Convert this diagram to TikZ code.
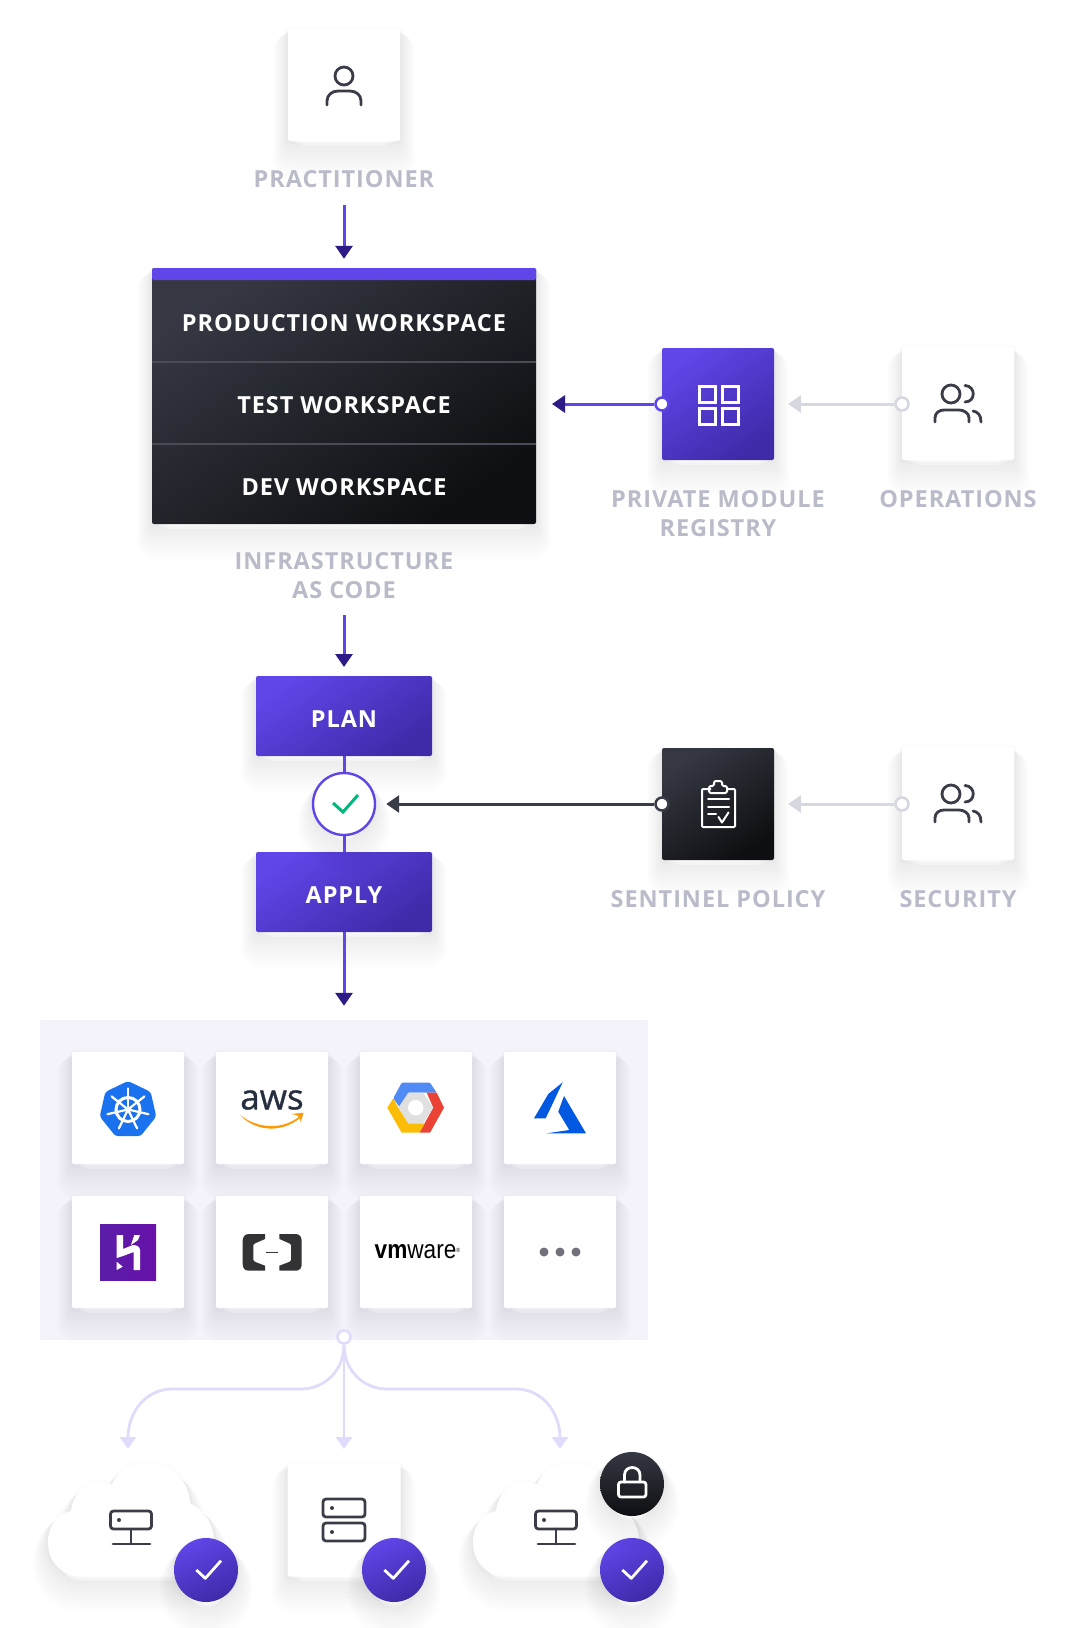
\documentclass[tikz,border=0pt]{standalone}
\usepackage{fontspec}
\setmainfont{Open Sans}[LetterSpace=4]
\newfontfamily\logofont{Open Sans}[FakeBold=0.9]
\newfontfamily\vmfont{Liberation Sans}
\usetikzlibrary{positioning}
\usetikzlibrary{arrows.meta}
\usetikzlibrary{calc}
\usetikzlibrary{shapes.geometric}

\definecolor{violet1}{HTML}{6045E8}
\definecolor{violet2}{HTML}{3F2AA8}
\definecolor{indigotip}{HTML}{2E1B85}
\definecolor{dark1}{HTML}{353842}
\definecolor{dark2}{HTML}{0E0F12}
\definecolor{iconink}{HTML}{3A3C47}
\definecolor{labelgrey}{HTML}{B9BBC9}
\definecolor{greyline}{HTML}{D6D8E0}
\definecolor{lilac}{HTML}{DFDBFB}
\definecolor{panelbg}{HTML}{F4F3FC}
\definecolor{checkgreen}{HTML}{00B87C}

\tikzset{
	blobstep/.style={preaction={draw=black,opacity=0.0085,line width=#1*1pt,line join=round,transform canvas={yshift=-0.68*#1*1pt}}},
	halostep/.style={preaction={draw=black,opacity=0.005,line width=#1*1pt,line join=round}},
	softshadow/.style={blobstep=30,blobstep=27,blobstep=24,blobstep=21,blobstep=18,blobstep=15,blobstep=12,blobstep=9,blobstep=6,blobstep=3,halostep=8,halostep=5,halostep=2},
	card/.style={rectangle,fill=white,rounded corners=2pt,minimum size=112pt,inner sep=0pt,outer sep=0pt,softshadow},
	violetbox/.style={rectangle,top color=violet1,bottom color=violet2,shading angle=35,rounded corners=2pt,inner sep=0pt,outer sep=0pt,softshadow},
	darkbox/.style={rectangle,top color=dark1,bottom color=dark2,shading angle=35,rounded corners=2pt,inner sep=0pt,outer sep=0pt,softshadow},
	stepbox/.style={violetbox,minimum width=176pt,minimum height=80pt,text=white,text height=23pt,text depth=0pt,font=\bfseries\fontsize{23.5}{29}\selectfont},
	wsrow/.style={inner sep=0pt,text=white,font=\bfseries\fontsize{23.5}{29}\selectfont},
	lbl/.style={inner sep=0pt,align=center,text=labelgrey,font=\bfseries\fontsize{23.5}{29}\selectfont},
	port/.style={circle,fill=white,draw=#1,line width=2.5pt,minimum size=13pt,inner sep=0pt},
	badge/.style={circle,top color=violet1,bottom color=violet2,shading angle=25,minimum size=64pt,inner sep=0pt,softshadow},
	flow/.style={draw=violet1,line width=3pt,-{Triangle[width=17pt,length=13pt,color=indigotip]}},
	flowdark/.style={draw=iconink,line width=3pt,-{Triangle[width=17pt,length=13pt,color=iconink]}},
	flowgrey/.style={draw=greyline,line width=3pt,-{Triangle[width=17pt,length=13pt,color=greyline]}},
	branch/.style={draw=lilac,line width=2.8pt,-{Triangle[width=16pt,length=12pt,color=lilac]}},
	iconline/.style={draw=iconink,line width=2.8pt,line cap=round,line join=round},
	whiteline/.style={draw=white,line width=2.8pt,line cap=round,line join=round},
	cloudpic/.pic={
		\path[fill=white,softshadow] (-48,56) .. controls (-70,56) and (-83,42) .. (-83,22)
			.. controls (-83,6) and (-74,-6) .. (-60,-9)
			.. controls (-58,-26) and (-46,-38) .. (-31,-38)
			.. controls (-27,-38) and (-23,-37) .. (-19,-36)
			.. controls (-13,-50) and (-1,-57) .. (16,-57)
			.. controls (40,-57) and (58,-40) .. (59,-17)
			.. controls (73,-10) and (83,4) .. (83,22)
			.. controls (83,42) and (68,56) .. (43,56) -- cycle;
		% server on its stand
		\draw[iconline,rounded corners=3pt] (-20.5,-9) rectangle (20.5,9);
		\fill[iconink] (-12,0) circle (2pt);
		\draw[iconline] (0,9) -- (0,24);
		\draw[iconline] (-18,24) -- (19,24);
	},
	peoplepic/.pic={
		\draw[iconline] (-7,-10) circle (9);
		\draw[iconline] (7,-18.5) .. controls (18,-18) and (18,-2) .. (7,-2);
		\draw[iconline] (-23,18) -- (-23,14) .. controls (-23,9) and (-19,6) .. (-14,6) -- (1,6) .. controls (6,6) and (11,9) .. (11,14) -- (11,18);
		\draw[iconline] (15,7) .. controls (20,8) and (23,11) .. (23,18);
	},
}

\begin{document}
\begin{tikzpicture}[x=1pt,y=-1pt]
	\useasboundingbox (0,0) rectangle (1068,1628);

	% practitioner at the top
	\node[card] (practcard) at (344,85) {};
	\draw[iconline] (344,76) circle (9);
	\draw[iconline] (327,105) -- (327,101) .. controls (327,95) and (332,91) .. (338,91) -- (350,91) .. controls (356,91) and (361,95) .. (361,101) -- (361,105);
	\node[lbl] (practlbl) at (344,179) {PRACTITIONER};

	% the three workspaces
	\node[darkbox,minimum width=384pt,minimum height=256pt] (wsbox) at (344,396) {};
	\node[rectangle,fill=violet1,rounded corners=1.5pt,minimum width=384pt,minimum height=12pt,inner sep=0pt] (wsbar) at (344,274) {};
	\node[wsrow] (wsprod) at (344,323) {PRODUCTION WORKSPACE};
	\node[wsrow] (wstest) at (344,405) {TEST WORKSPACE};
	\node[wsrow] (wsdev) at (344,487) {DEV WORKSPACE};
	\draw[white!10!dark1,line width=1.5pt] (wsbox.west |- 0,362) -- (wsbox.east |- 0,362);
	\draw[white!10!dark1,line width=1.5pt] (wsbox.west |- 0,444) -- (wsbox.east |- 0,444);
	\node[lbl] (wslbl) at (344,575.5) {INFRASTRUCTURE\\AS CODE};

	% registry and operations
	\node[violetbox,minimum size=112pt] (regbox) at (718,404) {};
	\foreach \x in {699,722}
		\foreach \y in {386,408}
			\draw[whiteline,line width=3pt,line cap=butt,line join=miter] (\x,\y) rectangle +(16,16);
	\node[lbl] (reglbl) at (718,513.5) {PRIVATE MODULE\\REGISTRY};
	\node[card] (opscard) at (958,404) {};
	\pic at (958,404) {peoplepic};
	\node[lbl] (opslbl) at (958,499) {OPERATIONS};

	% plan, check, apply
	\node[stepbox] (plan) at (344,716) {PLAN};
	\node[stepbox] (apply) at (344,892) {APPLY};
	\node[circle,fill=white,draw=violet1,line width=2.4pt,minimum size=62pt,inner sep=0pt,softshadow] (check) at (344,804) {};
	\draw[draw=checkgreen,line width=3pt] (333,803) -- (343,812) -- (358,795);

	% policy and security
	\node[darkbox,minimum size=112pt] (polbox) at (718,804) {};
	\draw[whiteline,line width=2pt,line cap=butt,rounded corners=1pt] (711,789) -- (702,789) -- (702,827) -- (735,827) -- (735,789) -- (726,789);
	\draw[whiteline,line width=2pt,rounded corners=1.5pt] (709,793) -- (709,786) -- (714,786) -- (714,781) -- (722,781) -- (722,786) -- (727,786) -- (727,793) -- cycle;
	\draw[whiteline,line width=2pt] (708,799) -- (729,799);
	\draw[whiteline,line width=2pt] (708,807) -- (729,807);
	\draw[whiteline,line width=2pt] (708,814) -- (716,814);
	\draw[whiteline,line width=2pt] (718.5,817) -- (722,822.5) -- (728.5,812.5);
	\node[lbl] (pollbl) at (718,899) {SENTINEL POLICY};
	\node[card] (seccard) at (958,804) {};
	\pic at (958,804) {peoplepic};
	\node[lbl] (seclbl) at (958,899) {SECURITY};

	% providers
	\node[rectangle,fill=panelbg,minimum width=608pt,minimum height=320pt,inner sep=0pt] (panel) at (344,1180) {};
	\foreach \name/\x in {kube/128,aws/272,gcp/416,azure/560}
		\node[card] (\name card) at (\x,1108) {};
	\foreach \name/\x in {heroku/128,alicloud/272,vmware/416,more/560}
		\node[card] (\name card) at (\x,1252) {};

	% kubernetes
	\definecolor{kubeblue}{HTML}{1B72EE}
	\node[regular polygon,regular polygon sides=7,minimum size=58pt,inner sep=0pt,fill=kubeblue,rounded corners=3pt] (kube) at (128,1110) {};
	\draw[white,line width=3pt] (128,1109.5) circle (12);
	\fill[white] (128,1109.5) circle (3);
	\foreach \a in {0,...,6} {
		\draw[white,line width=2.2pt,line cap=round] (128,1109.5) -- ++({-90+\a*360/7}:21);
	}

	% aws
	\definecolor{awsink}{HTML}{252F3E}
	\definecolor{awsorange}{HTML}{FF9900}
	\node[inner sep=0pt,text=awsink,font=\logofont\fontsize{35}{35}\selectfont] (awstext) at (272,1100) {aws};
	\path[fill=awsorange] (240,1115) .. controls (258,1129) and (282,1130) .. (299.5,1116.5) -- (300,1118) .. controls (282,1133) and (256,1132) .. (240,1115) -- cycle;
	\path[fill=awsorange] (291,1114) -- (303.5,1112.7) -- (300.5,1123) .. controls (301,1118) and (300,1115) .. (291,1114) -- cycle;

	% gcp
	\path[fill={rgb,255:red,79;green,138;blue,245},rounded corners=1pt] (401.7,1082.7) -- (430,1082.7) -- (436.7,1092.7) -- (408.3,1092.7) -- (400,1107.7) -- (393.3,1098.3) -- cycle;
	\path[fill={rgb,255:red,234;green,67;blue,53}] (426.7,1092.7) -- (436.7,1092.7) -- (444,1107.7) -- (430,1132.7) -- (419.3,1132.7) -- (433.3,1107.7) -- cycle;
	\path[fill={rgb,255:red,251;green,188;blue,5}] (393.3,1098.3) -- (398.3,1107.7) -- (408.3,1123.3) -- (425,1123.3) -- (419.3,1132.7) -- (401.7,1132.7) -- (387.3,1107.7) -- cycle;
	\path[fill=black!12] (398.3,1107.7) -- (408.3,1092.7) -- (423,1092.7) -- (433.3,1107.7) -- (423,1123.3) -- (408.3,1123.3) -- cycle;
	\fill[white] (415.7,1107.7) circle (7.7);

	% azure
	\definecolor{azureblue}{HTML}{0059E0}
	\path[fill=azureblue] (562.7,1082.3) -- (548.3,1094) -- (534,1118.3) -- (545.7,1118.3) -- cycle;
	\path[fill=azureblue] (564,1096) -- (558.3,1111.7) -- (569.3,1130) -- (546.7,1133.3) -- (586,1133.3) -- cycle;

	% heroku
	\definecolor{heroku1}{HTML}{5A1EA8}
	\definecolor{heroku2}{HTML}{6710A8}
	\node[rectangle,left color=heroku1,right color=heroku2,minimum size=56pt,inner sep=0pt] (heroku) at (128,1252) {};
	\path[fill=white] (116.7,1235) -- (123,1235) -- (123,1249) -- (133,1245) .. controls (137,1245) and (140,1247) .. (140,1250) -- (140,1270) -- (133.7,1270) -- (133.7,1252) -- (123,1256) -- (116.7,1258) -- cycle;
	\path[fill=white] (134.3,1235) -- (140,1235) -- (138,1240) -- (131,1245) -- cycle;
	\path[fill=white] (116.7,1261.7) -- (122.7,1266.7) -- (116.7,1270) -- cycle;

	% alibaba cloud
	\definecolor{aliink}{HTML}{333336}
	\foreach \s/\c in {1/242.7,-1/301.7} {
		\path[fill=aliink,xscale=\s,shift={(\s*\c,0)}] (22.3,1234) -- (6,1234) .. controls (2,1234) and (0,1237) .. (0,1241) -- (0,1264) .. controls (0,1268) and (2,1270.7) .. (6,1270.7) -- (22.3,1270.7) -- (22.3,1265.7) -- (12,1261.7) -- (10.7,1260) -- (10.7,1245) -- (12,1243.5) -- (22.3,1239) -- cycle;
	}
	\draw[aliink,line width=1.2pt] (266,1252.7) -- (278.3,1252.7);

	% vmware
	\node[inner sep=0pt,font=\vmfont\fontsize{26}{26}\selectfont] (vmtext) at (417.5,1252) {\scalebox{0.87}[1]{\textbf{vm}ware\raisebox{6pt}{\fontsize{6}{6}\selectfont ®}}};

	% more
	\foreach \x in {544,560,576}
		\fill[black!40!labelgrey] (\x,1252) circle (4.5);

	% targets
	\node[card,minimum size=113pt] (barecard) at (344,1520) {};
	\draw[iconline,rounded corners=3pt] (323,1499) rectangle (365,1517);
	\draw[iconline,rounded corners=3pt] (323,1523) rectangle (365,1541);
	\fill[iconink] (332,1508) circle (2pt);
	\fill[iconink] (332,1532) circle (2pt);
	\pic at (131,1520) {cloudpic};
	\pic at (556,1520) {cloudpic};
	\foreach \name/\x in {left/206,mid/394,right/632} {
		\node[badge] (\name badge) at (\x,1570) {};
		\draw[whiteline,line cap=butt] (\x-9.6,1570) -- (\x-0.7,1578.3) -- (\x+15,1560.7);
	}
	\node[badge,top color=dark1,bottom color=dark2] (lockbadge) at (632,1484) {};
	\draw[whiteline] (624.5,1482) -- (624.5,1475) .. controls (624.5,1465) and (640,1465) .. (640,1475) -- (640,1482);
	\draw[whiteline,rounded corners=2.5pt] (618.5,1482) rectangle (646,1497);

	% connectors
	\coordinate (lefttip) at (128,1449);
	\coordinate (midtip) at (344,1449);
	\coordinate (righttip) at (560,1449);
	\node[port=greyline] (opsport) at (opscard.west) {};
	\node[port=violet1] (regport) at (regbox.west) {};
	\node[port=greyline] (secport) at (seccard.west) {};
	\node[port=iconink] (polport) at (polbox.west) {};
	\draw[flow,shorten <=17pt,shorten >=9pt] (practlbl) -- (wsbar);
	\draw[flow,shorten >=9pt,shorten <=16pt] (wslbl) -- (plan);
	\draw[draw=violet1,line width=3pt] (plan) -- (check);
	\draw[draw=violet1,line width=3pt] (check) -- (apply);
	\draw[flow,shorten >=14pt] (apply) -- (apply.south |- panel.north);
	\draw[flow,shorten >=16pt] (regport) -- (wsbox.east |- regport);
	\draw[flowgrey,shorten >=14pt] (opsport) -- (regbox.east |- opsport);
	\draw[flowdark,shorten >=10pt] (polport) -- (check);
	\draw[flowgrey,shorten >=14pt] (secport) -- (polbox.east |- secport);
	\node[port=lilac] (panelport) at (344,1337) {};
	\draw[branch] (panelport.south) .. controls (344,1370) and (325,1389) .. (301,1389) -- (172,1389) .. controls (146,1389) and (128,1412) .. (lefttip);
	\draw[branch] (panelport.south) -- (midtip);
	\draw[branch] (panelport.south) .. controls (344,1370) and (363,1389) .. (387,1389) -- (516,1389) .. controls (542,1389) and (560,1412) .. (righttip);
\end{tikzpicture}
\end{document}
